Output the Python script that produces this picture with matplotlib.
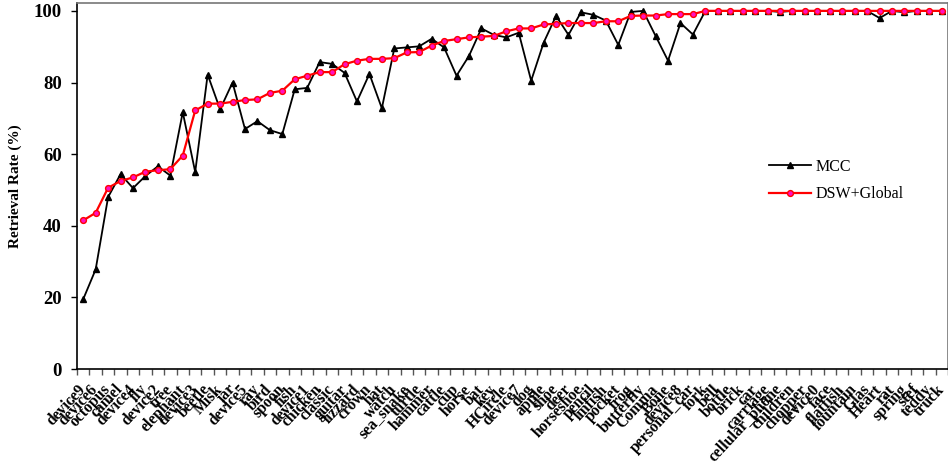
import matplotlib
matplotlib.use("Agg")
import matplotlib.pyplot as plt
import matplotlib.transforms as mtransforms
import numpy as np

categories = ["device9", "device6", "octopus", "camel", "device4", "fly", "device2", "tree",
              "elephant", "device3", "beetle", "Misk", "jar", "device5", "ray", "bird", "spoon",
              "fish", "device1", "chicken", "classic", "guitar", "lizzard", "crown", "hat",
              "watch", "sea_snake", "turtle", "hammer", "cattle", "cup", "horse", "bat", "key",
              "HCircle", "device7", "dog", "apple", "shoe", "deer", "horseshoe", "pencil",
              "lmfish", "pocket", "frog", "butterfly", "Comma", "Bone", "device8", "personal_car",
              "fork", "bell", "bottle", "brick", "car", "carriage", "cellular_phone", "children",
              "chopper", "device0", "face", "flatfish", "fountain", "Glas", "Heart", "rat",
              "spring", "stef", "teddy", "truck"]

mcc = [19.5, 27.8, 48.0, 54.4, 50.5, 53.9, 56.6, 54.0, 71.7, 55.0,
       82.2, 72.5, 80.0, 67.0, 69.2, 66.7, 65.6, 78.1, 78.5, 85.7,
       85.2, 82.7, 74.7, 82.4, 72.8, 89.5, 89.8, 90.1, 92.2, 89.8,
       81.9, 87.4, 95.1, 93.3, 92.6, 93.9, 80.5, 91.1, 98.6, 93.3,
       99.6, 98.9, 97.3, 90.5, 99.7, 100.0, 93.0, 86.1, 96.6, 93.4,
       100.0, 100.0, 100.0, 100.0, 100.0, 100.0, 99.7, 100.0, 100.0, 100.0,
       100.0, 100.0, 100.0, 100.0, 98.0, 100.0, 99.6, 100.0, 100.0, 100.0]

dsw = [41.5, 43.6, 50.6, 52.5, 53.5, 55.1, 55.5, 55.8, 59.6, 72.2,
       74.1, 74.1, 74.6, 75.1, 75.3, 77.1, 77.7, 80.9, 81.9, 82.9,
       82.9, 85.1, 86.1, 86.6, 86.6, 86.8, 88.4, 88.5, 90.3, 91.6,
       92.1, 92.6, 92.8, 93.0, 94.3, 95.1, 95.1, 96.2, 96.4, 96.6,
       96.6, 96.6, 97.1, 97.1, 98.6, 98.7, 98.7, 99.1, 99.1, 99.1,
       100.0, 100.0, 100.0, 100.0, 100.0, 100.0, 100.0, 100.0, 100.0, 100.0,
       100.0, 100.0, 100.0, 100.0, 100.0, 100.0, 100.0, 100.0, 100.0, 100.0]

yticks = [0, 20, 40, 60, 80, 100]

plt.rcParams['font.family'] = ['Liberation Serif', 'DejaVu Serif']

fig = plt.figure(figsize=(9.48, 4.67), dpi=100)
ax = fig.add_axes([77/948, 1 - 369/467, 871/948, 366/467])

x = np.arange(len(categories))
ax.plot(x, mcc, color='black', lw=1.3, marker='^', ms=4.5, mfc='black', mec='black', label='MCC')
ax.plot(x, dsw, color='red', lw=1.6, marker='o', ms=4.2, mfc='#ff10c0', mec='red', mew=1.0,
        label='DSW+Global')

ax.set_xlim(-0.5, len(categories) - 0.5)
ax.set_ylim(0, 102.2)
ax.set_yticks(yticks)
ax.set_yticklabels([str(v) for v in yticks], fontsize=13.5, fontweight='bold')
ax.set_xticks(np.arange(len(categories) + 1) - 0.5)
ax.set_xticklabels([])
ax.set_xticks(x, minor=True)
ax.set_xticklabels(categories, minor=True, rotation=47, ha='right', va='center',
                   rotation_mode='anchor', fontsize=11.3, fontweight='bold')
shift = mtransforms.ScaledTranslation(-4/100, 0, fig.dpi_scale_trans)
for lbl in ax.get_xticklabels(minor=True):
    lbl.set_transform(lbl.get_transform() + shift)
ax.tick_params(axis='x', which='major', direction='out', length=4, width=1, color='#555555')
ax.tick_params(axis='x', which='minor', length=0, pad=13)
ax.tick_params(axis='y', direction='out', length=4, width=1, pad=7)

for s in ['top', 'right']:
    ax.spines[s].set_color('#777777')
    ax.spines[s].set_linewidth(1.2)
ax.spines['left'].set_linewidth(1.2)
ax.spines['bottom'].set_linewidth(1.2)

ax.set_ylabel('Retrieval Rate (%)', fontsize=11, fontweight='bold', labelpad=8)

leg = ax.legend(loc='center left', bbox_to_anchor=(0.778, 0.515), frameon=False,
                fontsize=11.5, handlelength=2.6, labelspacing=0.7, handletextpad=0.3)

fig.savefig('out.png', dpi=100)
